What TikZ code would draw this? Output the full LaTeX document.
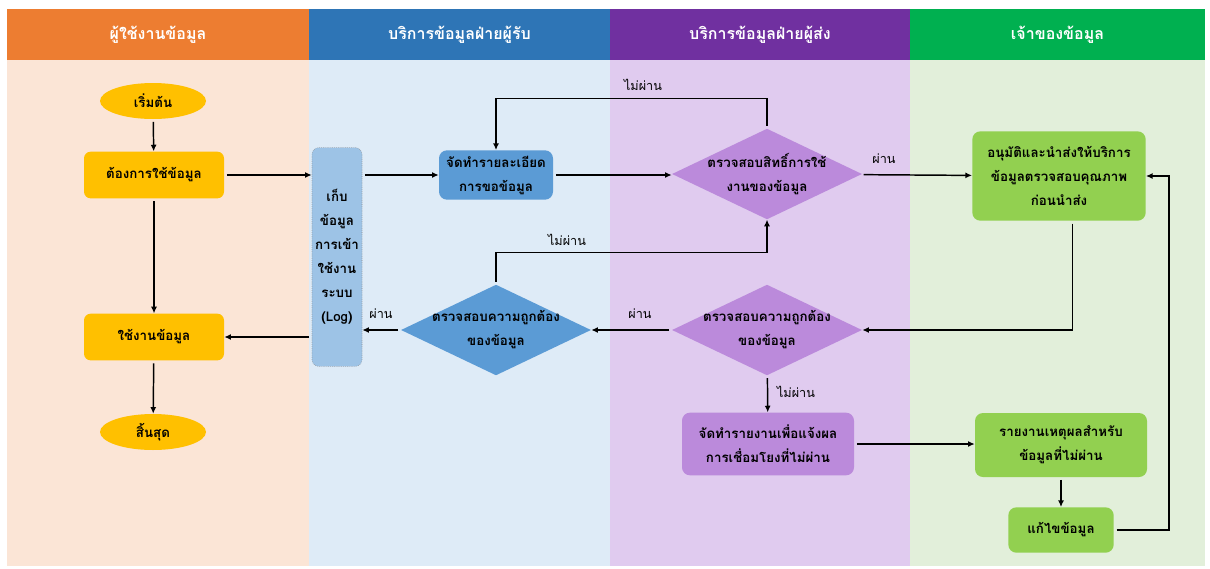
\documentclass[tikz,border=0pt]{standalone}
\usepackage{fontspec}
\newfontfamily\thaifont[Script=Thai]{Loma}
\usetikzlibrary{positioning,shapes,arrows.meta,calc}
\definecolor{hdrorange}{HTML}{ED7D31}
\definecolor{hdrblue}{HTML}{2E75B6}
\definecolor{hdrpurple}{HTML}{7030A0}
\definecolor{hdrgreen}{HTML}{00B050}
\definecolor{laneorange}{HTML}{FBE5D6}
\definecolor{laneblue}{HTML}{DEEBF7}
\definecolor{lanepurple}{HTML}{E0CBEF}
\definecolor{lanegreen}{HTML}{E2EFDA}
\definecolor{yellowbox}{HTML}{FFC000}
\definecolor{bluebox}{HTML}{5B9BD5}
\definecolor{logbox}{HTML}{9DC3E6}
\definecolor{purplebox}{HTML}{BB8ADB}
\definecolor{greenbox}{HTML}{92D050}

\begin{document}
\begin{tikzpicture}[x=0.75pt, y=-0.75pt,
    font=\thaifont\bfseries\fontsize{10}{18}\selectfont,
    header/.style={minimum height=38.25pt, inner sep=0pt, text=white,
      font=\thaifont\bfseries\fontsize{12}{14}\selectfont},
    terminal/.style={ellipse, fill=yellowbox, minimum width=79.5pt, minimum height=27pt, inner sep=0pt},
    userbox/.style={rectangle, rounded corners=5pt, fill=yellowbox, minimum width=105pt, minimum height=35pt},
    taskbox/.style={rectangle, rounded corners=6pt, align=center, inner sep=2pt},
    decision/.style={diamond, aspect=2.1, inner sep=-7.5pt, align=center,
      minimum width=142.5pt, minimum height=68pt},
    tag/.style={font=\thaifont\fontsize{9.5}{11}\selectfont},
    arr/.style={-{Latex[length=5pt,width=4.5pt]}, line width=1.1pt, shorten <=2pt}]
  \useasboundingbox (0,0) rectangle (1210,568);
  \fill[white] (0,0) rectangle (1210,568);

  \fill[laneorange] (7,60) rectangle (309,566);
  \fill[laneblue] (309,60) rectangle (610,566);
  \fill[lanepurple] (610,60) rectangle (910,566);
  \fill[lanegreen] (910,60) rectangle (1205,566);

  \node[header, fill=hdrorange, minimum width=226.5pt] (hdruser) at (158,34.5) {ผู้ใช้งานข้อมูล};
  \node[header, fill=hdrblue, minimum width=225.75pt] (hdrrecv) at (459.5,34.5) {บริการข้อมูลฝ่ายผู้รับ};
  \node[header, fill=hdrpurple, minimum width=225pt] (hdrsend) at (760,34.5) {บริการข้อมูลฝ่ายผู้ส่ง};
  \node[header, fill=hdrgreen, minimum width=221.25pt] (hdrowner) at (1057.5,34.5) {เจ้าของข้อมูล};

  \node[terminal] (start) at (153,101) {เริ่มต้น};
  \node[userbox] (need) at (154,175) {ต้องการใช้ข้อมูล};
  \node[userbox] (use) at (154,337) {ใช้งานข้อมูล};
  \node[terminal] (finish) at (153,432) {สิ้นสุด};

  \node[taskbox, fill=logbox, draw=black!45, densely dotted, minimum width=37.5pt,
    minimum height=164pt, rounded corners=5pt] (log) at (337,257)
    {เก็บ\\ข้อมูล\\การเข้า\\ใช้งาน\\ระบบ\\(Log)};
  \node[taskbox, fill=bluebox, minimum width=85.5pt, minimum height=37pt] (prep) at (496,175)
    {จัดทำรายละเอียด\\การขอข้อมูล};
  \node[decision, fill=bluebox] (chk3) at (496,330) {ตรวจสอบความถูกต้อง\\ของข้อมูล};

  \node[decision, fill=purplebox] (chk1) at (767,174) {ตรวจสอบสิทธิ์การใช้\\งานของข้อมูล};
  \node[decision, fill=purplebox] (chk2) at (767,330) {ตรวจสอบความถูกต้อง\\ของข้อมูล};
  \node[taskbox, fill=purplebox, minimum width=129pt, minimum height=47pt] (notify) at (768,444)
    {จัดทำรายงานเพื่อแจ้งผล\\การเชื่อมโยงที่ไม่ผ่าน};

  \node[taskbox, fill=greenbox, minimum width=130pt, minimum height=67pt] (apprv) at (1059,176)
    {อนุมัติและนำส่งให้บริการ\\ข้อมูลตรวจสอบคุณภาพ\\ก่อนนำส่ง};
  \node[taskbox, fill=greenbox, minimum width=129pt, minimum height=48pt] (reason) at (1061,445)
    {รายงานเหตุผลสำหรับ\\ข้อมูลที่ไม่ผ่าน};
  \node[taskbox, fill=greenbox, minimum width=79pt, minimum height=34pt] (fix) at (1061,530)
    {แก้ไขข้อมูล};

  \draw[arr] (start) -- (need);
  \draw[arr] (need) -- (log.west |- need);
  \draw[arr] (need) -- (use);
  \draw[arr] (use) -- (finish);
  \draw[arr] (log.east |- prep) -- (prep);
  \draw[arr] (prep) -- (prep -| chk1.west);
  \draw[arr] (chk1.north) -- ++(0,-30) -| (prep.north);
  \draw[arr] (chk1) -- (apprv);
  \draw[arr] ([xshift=10pt]apprv.south) |- (chk2);
  \draw[arr] (chk2) -- (chk3);
  \draw[arr] (chk3.north) -- ++(0,-32) -| (chk1.south);
  \draw[arr] (chk3) -- (log.east |- chk3);
  \draw[arr] (log.west |- use) -- (use);
  \draw[arr] (chk2) -- (notify);
  \draw[arr] (notify) -- (notify -| reason.west);
  \draw[arr] (reason) -- (fix);
  \draw[arr] (fix.east) -- ++(55,0) |- (apprv.east);

  \node[tag] (fail1) at (643,85) {ไม่ผ่าน};
  \node[tag] (pass1) at (884,159) {ผ่าน};
  \node[tag] (fail2) at (567,240) {ไม่ผ่าน};
  \node[tag] (pass2) at (640,314) {ผ่าน};
  \node[tag] (pass3) at (381,314) {ผ่าน};
  \node[tag] (fail3) at (796,392) {ไม่ผ่าน};
\end{tikzpicture}
\end{document}
